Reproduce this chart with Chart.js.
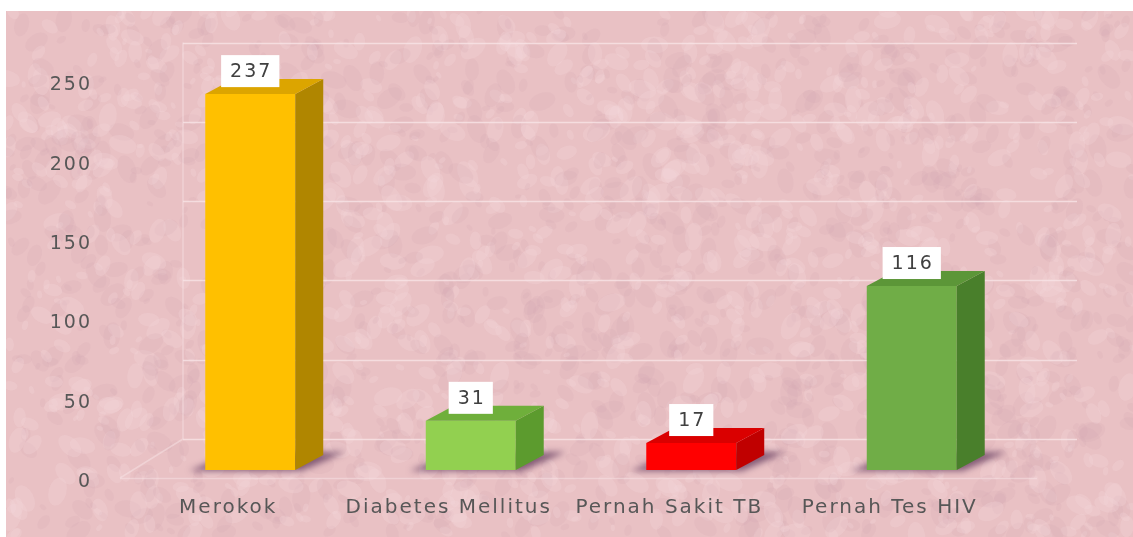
<!DOCTYPE html>
<html>
<head>
<meta charset="utf-8">
<script src="https://cdn.jsdelivr.net/npm/chart.js@4/dist/chart.umd.min.js"></script>
<style>
  html, body { margin: 0; padding: 0; background: #ffffff; }
  #wrap { position: relative; width: 1133px; height: 537px; }
</style>
</head>
<body>
<div id="wrap"><canvas id="c" width="1133" height="537"></canvas></div>
<script>
const categories = ['Merokok', 'Diabetes Mellitus', 'Pernah Sakit TB', 'Pernah Tes HIV'];
const values = [237, 31, 17, 116];
const yTickValues = [0, 50, 100, 150, 200, 250];

const frontColors = ['#FFC000', '#92D050', '#FF0000', '#70AD47'];
const sideColors  = ['#B08600', '#5C9B2E', '#C00000', '#497F2B'];
const topColors   = ['#DCA500', '#6FAF3B', '#DA0000', '#5C9638'];

const DX = 28, DY = 15;          // 3D depth of bars
const WALL_DY = 31;              // back wall offset of gridlines
const TEXT = '#575757';
const FONT = 'DejaVu Sans';

function hash(n) { const s = Math.sin(n * 12.9898 + 78.233) * 43758.5453; return s - Math.floor(s); }

const bgPlugin = {
  id: 'bg',
  beforeDraw(chart) {
    const ctx = chart.ctx;
    ctx.save();
    ctx.fillStyle = '#ffffff';
    ctx.fillRect(0, 0, chart.width, chart.height);
    ctx.fillStyle = '#E9C1C4';
    ctx.fillRect(6, 11, chart.width - 6, chart.height - 11);
    // subtle mottled texture
    ctx.beginPath();
    ctx.rect(6, 11, chart.width - 6, chart.height - 11);
    ctx.clip();
    for (let i = 0; i < 2600; i++) {
      const x = 6 + hash(i) * (chart.width - 6);
      const y = 11 + hash(i + 5000) * (chart.height - 11);
      const r = 2 + hash(i + 9000) * 7;
      const light = hash(i + 13000) > 0.5;
      ctx.fillStyle = light ? 'rgba(246,214,218,0.28)' : 'rgba(212,168,175,0.18)';
      ctx.beginPath();
      ctx.ellipse(x, y, r * 1.6, r, hash(i + 17000) * 3, 0, Math.PI * 2);
      ctx.fill();
    }
    ctx.restore();
    ctx.letterSpacing = '2px';
  },
  beforeDatasetsDraw(chart) {
    const ctx = chart.ctx;
    const area = chart.chartArea;
    const y = chart.scales.y;
    ctx.save();
    ctx.strokeStyle = 'rgba(248,228,230,0.8)';
    ctx.lineWidth = 1.5;
    const gl = area.left + 43, gr = area.right + 55;
    yTickValues.forEach(v => {
      const py = Math.round(y.getPixelForValue(v) - WALL_DY) + 0.5;
      ctx.beginPath(); ctx.moveTo(gl, py); ctx.lineTo(gr, py); ctx.stroke();
    });
    // left wall edge and floor front edge
    ctx.strokeStyle = 'rgba(248,228,230,0.5)';
    const y0 = y.getPixelForValue(0);
    const yTop = y.getPixelForValue(250);
    ctx.beginPath(); ctx.moveTo(gl, yTop - WALL_DY); ctx.lineTo(gl, y0 - WALL_DY); ctx.lineTo(area.left - 20, y0 + 8); ctx.stroke();
    ctx.beginPath(); ctx.moveTo(area.left - 20, y0 + 8.5); ctx.lineTo(area.right + 15, y0 + 8.5); ctx.stroke();

    // bar shadows
    const meta = chart.getDatasetMeta(0);
    meta.data.forEach((bar) => {
      const p = bar.getProps(['x', 'y', 'base', 'width'], true);
      const l = p.x - p.width / 2, r = p.x + p.width / 2, b = p.base;
      ctx.save();
      ctx.filter = 'blur(3px)';
      ctx.fillStyle = 'rgba(80,40,80,0.65)';
      ctx.beginPath();
      ctx.moveTo(l - 16, b + 1);
      ctx.lineTo(r + 6, b + 1);
      ctx.lineTo(r + DX + 22, b - DY - 3);
      ctx.lineTo(l + DX, b - DY - 3);
      ctx.closePath();
      ctx.fill();
      ctx.restore();
    });
    ctx.restore();
  },
  afterDatasetsDraw(chart) {
    const ctx = chart.ctx;
    const meta = chart.getDatasetMeta(0);
    ctx.save();
    meta.data.forEach((bar, i) => {
      const p = bar.getProps(['x', 'y', 'base', 'width'], true);
      const l = p.x - p.width / 2, r = p.x + p.width / 2;
      // side face
      ctx.fillStyle = sideColors[i];
      ctx.beginPath();
      ctx.moveTo(r, p.y); ctx.lineTo(r + DX, p.y - DY); ctx.lineTo(r + DX, p.base - DY); ctx.lineTo(r, p.base);
      ctx.closePath(); ctx.fill();
      // top face
      ctx.fillStyle = topColors[i];
      ctx.beginPath();
      ctx.moveTo(l, p.y); ctx.lineTo(l + DX, p.y - DY); ctx.lineTo(r + DX, p.y - DY); ctx.lineTo(r, p.y);
      ctx.closePath(); ctx.fill();
    });
    // data labels
    ctx.font = '19px "' + FONT + '"';
    ctx.letterSpacing = '2px';
    ctx.textAlign = 'center';
    ctx.textBaseline = 'middle';
    meta.data.forEach((bar, i) => {
      const p = bar.getProps(['x', 'y'], true);
      const txt = String(values[i]);
      const w = ctx.measureText(txt).width + 16;
      const h = 32;
      const bx = p.x - w / 2, by = p.y - 7 - h;
      ctx.fillStyle = '#ffffff';
      ctx.fillRect(bx, by, w, h);
      ctx.fillStyle = '#404040';
      ctx.fillText(txt, p.x + 1, by + h / 2 + 1);
    });
    ctx.restore();
  }
};

new Chart(document.getElementById('c'), {
  type: 'bar',
  data: {
    labels: categories,
    datasets: [{
      data: values,
      backgroundColor: frontColors,
      borderWidth: 0,
      barPercentage: 0.408,
      categoryPercentage: 1.0
    }]
  },
  options: {
    responsive: false,
    animation: false,
    events: [],
    layout: { padding: { left: 0, right: 111, top: 73.5, bottom: 0 } },
    plugins: { legend: { display: false }, tooltip: { enabled: false }, title: { display: false } },
    scales: {
      x: {
        grid: { display: false, drawTicks: false },
        border: { display: false },
        ticks: {
          color: TEXT,
          font: { family: FONT, size: 20 },
          padding: 26,
          labelOffset: -22,
          maxRotation: 0,
          autoSkip: false
        },
        afterFit(scale) { scale.height = 67; }
      },
      y: {
        min: 0,
        max: 250,
        grid: { display: false, drawTicks: false },
        border: { display: false },
        ticks: {
          stepSize: 50,
          color: TEXT,
          font: { family: FONT, size: 19 },
          padding: 48,
          labelOffset: 12
        },
        afterFit(scale) { scale.width = 140; }
      }
    }
  },
  plugins: [bgPlugin]
});
</script>
</body>
</html>
